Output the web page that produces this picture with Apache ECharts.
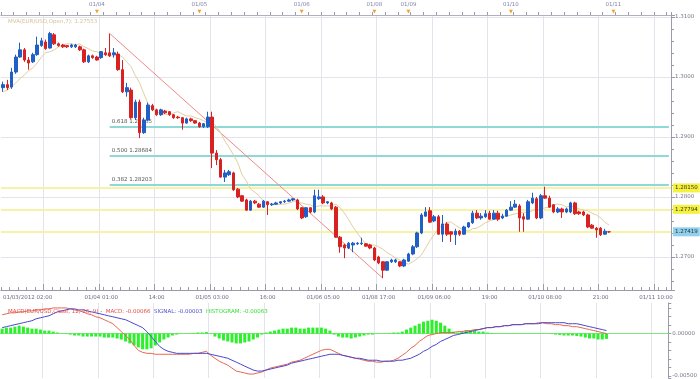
<!DOCTYPE html>
<html><head><meta charset="utf-8">
<script src="https://cdn.jsdelivr.net/npm/echarts@6/dist/echarts.min.js"></script>
<style>html,body{margin:0;padding:0;background:#fff}#c{width:700px;height:379px}</style>
</head><body><div id="c"></div>
<script>
// ---- time categories (hourly bars, weekend skipped) ----
const daySegments = [["01/03",2,23],["01/04",0,23],["01/05",0,23],["01/06",0,16],["01/08",16,23],["01/09",0,23],["01/10",0,23],["01/11",0,13]];
const categories = [];
daySegments.forEach(([d,a,b]) => { for (let h=a; h<=b; h++) categories.push(d+" "+String(h).padStart(2,"0")+":00"); });

const bottomLabels = [["01/03 02:00","01/03/2012 02:00"],["01/04 01:00","01/04 01:00"],["01/04 14:00","14:00"],["01/05 03:00","01/05 03:00"],["01/05 16:00","16:00"],["01/06 05:00","01/06 05:00"],["01/08 17:00","01/08 17:00"],["01/09 06:00","01/09 06:00"],["01/09 19:00","19:00"],["01/10 08:00","01/10 08:00"],["01/10 21:00","21:00"],["01/11 10:00","01/11 10:00"]];
const gridTimes = ["01/03 12:00","01/04 01:00","01/04 14:00","01/05 03:00","01/05 16:00","01/06 05:00","01/08 17:00","01/09 06:00","01/09 19:00","01/10 08:00","01/10 21:00","01/11 10:00"];
const dayStarts = [["01/04 00:00","01/04"],["01/05 00:00","01/05"],["01/06 00:00","01/06"],["01/08 16:00","01/08"],["01/09 00:00","01/09"],["01/10 00:00","01/10"],["01/11 00:00","01/11"]];

// ---- EUR/USD hourly candles: [open, close, low, high] ----
const candles = [
[1.2982,1.2987,1.2975,1.2992],[1.2987,1.2982,1.2978,1.2995],[1.2983,1.3008,1.2980,1.3015],[1.3008,1.3033,1.3005,1.3037],
[1.3033,1.3045,1.3032,1.3057],[1.3045,1.3028,1.3025,1.3048],[1.3028,1.3023,1.3012,1.3033],[1.3025,1.3037,1.3023,1.3040],
[1.3037,1.3053,1.3035,1.3067],[1.3052,1.3060,1.3050,1.3065],[1.3058,1.3047,1.3045,1.3062],[1.3048,1.3072,1.3047,1.3075],
[1.3070,1.3055,1.3053,1.3073],[1.3055,1.3052,1.3050,1.3057],[1.3053,1.3050,1.3048,1.3055],[1.3052,1.3050,1.3048,1.3053],
[1.3050,1.3053,1.3048,1.3055],[1.3050,1.3053,1.3048,1.3055],[1.3050,1.3045,1.3043,1.3052],[1.3045,1.3025,1.3023,1.3047],
[1.3025,1.3035,1.3023,1.3037],[1.3035,1.3032,1.3030,1.3037],[1.3033,1.3028,1.3027,1.3035],[1.3032,1.3042,1.3030,1.3043],
[1.3040,1.3037,1.3035,1.3048],[1.3040,1.3035,1.3033,1.3072],[1.3037,1.3040,1.3032,1.3048],[1.3038,1.3012,1.3010,1.3042],
[1.3012,1.2975,1.2973,1.3028],[1.2975,1.2982,1.2967,1.2990],[1.2978,1.2932,1.2930,1.2982],[1.2932,1.2958,1.2928,1.2962],
[1.2958,1.2907,1.2898,1.2962],[1.2907,1.2928,1.2905,1.2932],[1.2928,1.2953,1.2927,1.2957],[1.2952,1.2945,1.2943,1.2955],
[1.2945,1.2937,1.2935,1.2947],[1.2937,1.2945,1.2935,1.2947],[1.2943,1.2940,1.2938,1.2945],[1.2942,1.2937,1.2935,1.2943],
[1.2937,1.2932,1.2930,1.2938],[1.2933,1.2932,1.2930,1.2935],[1.2932,1.2923,1.2912,1.2933],[1.2923,1.2930,1.2922,1.2932],
[1.2930,1.2927,1.2925,1.2932],[1.2927,1.2923,1.2922,1.2928],[1.2923,1.2917,1.2915,1.2925],[1.2917,1.2922,1.2915,1.2923],
[1.2917,1.2933,1.2915,1.2942],[1.2933,1.2873,1.2848,1.2942],[1.2873,1.2862,1.2853,1.2878],[1.2862,1.2833,1.2832,1.2865],
[1.2833,1.2840,1.2825,1.2845],[1.2837,1.2842,1.2835,1.2845],[1.2840,1.2812,1.2810,1.2842],[1.2813,1.2800,1.2798,1.2815],
[1.2802,1.2793,1.2792,1.2803],[1.2795,1.2778,1.2777,1.2797],[1.2778,1.2793,1.2777,1.2795],[1.2793,1.2790,1.2788,1.2795],
[1.2788,1.2783,1.2782,1.2790],[1.2783,1.2793,1.2782,1.2795],[1.2792,1.2787,1.2770,1.2793],[1.2787,1.2788,1.2785,1.2790],
[1.2788,1.2790,1.2787,1.2792],[1.2790,1.2792,1.2788,1.2793],[1.2792,1.2793,1.2790,1.2795],[1.2793,1.2795,1.2792,1.2797],
[1.2795,1.2797,1.2793,1.2798],[1.2795,1.2780,1.2778,1.2797],[1.2782,1.2765,1.2763,1.2783],[1.2767,1.2782,1.2765,1.2783],
[1.2782,1.2775,1.2773,1.2783],[1.2775,1.2802,1.2773,1.2812],[1.2797,1.2800,1.2795,1.2812],[1.2800,1.2790,1.2788,1.2803],
[1.2790,1.2792,1.2788,1.2793],[1.2790,1.2780,1.2778,1.2792],[1.2783,1.2733,1.2732,1.2785],[1.2733,1.2717,1.2707,1.2735],
[1.2720,1.2715,1.2698,1.2722],[1.2715,1.2723,1.2713,1.2725],[1.2720,1.2723,1.2708,1.2725],[1.2722,1.2723,1.2720,1.2725],
[1.2722,1.2723,1.2720,1.2732],[1.2722,1.2718,1.2717,1.2723],[1.2720,1.2715,1.2713,1.2722],[1.2715,1.2695,1.2693,1.2717],
[1.2700,1.2690,1.2688,1.2702],[1.2692,1.2678,1.2665,1.2693],[1.2678,1.2692,1.2677,1.2693],[1.2692,1.2695,1.2690,1.2697],
[1.2692,1.2695,1.2690,1.2697],[1.2692,1.2685,1.2683,1.2693],[1.2685,1.2695,1.2683,1.2697],[1.2693,1.2705,1.2692,1.2707],
[1.2705,1.2717,1.2703,1.2720],[1.2717,1.2740,1.2715,1.2742],[1.2740,1.2770,1.2738,1.2773],[1.2768,1.2775,1.2767,1.2783],
[1.2777,1.2758,1.2757,1.2783],[1.2760,1.2767,1.2758,1.2770],[1.2767,1.2738,1.2737,1.2770],[1.2738,1.2755,1.2725,1.2770],
[1.2755,1.2738,1.2735,1.2758],[1.2742,1.2738,1.2725,1.2743],[1.2737,1.2743,1.2720,1.2747],[1.2743,1.2738,1.2735,1.2745],
[1.2738,1.2750,1.2737,1.2752],[1.2750,1.2757,1.2748,1.2758],[1.2757,1.2773,1.2755,1.2777],[1.2773,1.2765,1.2763,1.2778],
[1.2765,1.2768,1.2762,1.2773],[1.2767,1.2772,1.2765,1.2778],[1.2773,1.2763,1.2762,1.2777],[1.2763,1.2773,1.2762,1.2778],
[1.2773,1.2763,1.2760,1.2777],[1.2765,1.2768,1.2763,1.2772],[1.2768,1.2778,1.2767,1.2780],[1.2778,1.2783,1.2777,1.2793],
[1.2783,1.2788,1.2782,1.2795],[1.2785,1.2765,1.2742,1.2788],[1.2767,1.2763,1.2742,1.2773],[1.2763,1.2792,1.2762,1.2795],
[1.2790,1.2798,1.2788,1.2807],[1.2797,1.2765,1.2763,1.2800],[1.2765,1.2802,1.2763,1.2805],[1.2802,1.2798,1.2797,1.2817],
[1.2798,1.2783,1.2782,1.2802],[1.2787,1.2775,1.2773,1.2788],[1.2775,1.2780,1.2773,1.2783],[1.2780,1.2775,1.2765,1.2782],
[1.2775,1.2780,1.2773,1.2782],[1.2775,1.2790,1.2773,1.2792],[1.2790,1.2772,1.2770,1.2792],[1.2775,1.2772,1.2770,1.2777],
[1.2775,1.2770,1.2768,1.2777],[1.2770,1.2750,1.2748,1.2772],[1.2753,1.2748,1.2747,1.2755],[1.2748,1.2745,1.2732,1.2750],
[1.2748,1.2737,1.2735,1.2750],[1.2738,1.2743,1.2737,1.2747],[1.2742,1.27419,1.2740,1.2743]
];

// ---- MVA(Open,7) ----
const ma7 = [1.2975,1.2978,1.2983,1.2990,1.2997,1.3003,1.3010,1.3015,1.3023,1.3033,
1.3040,1.3042,1.3045,1.3050,1.3053,1.3055,1.3055,1.3053,1.3055,1.3050,
1.3047,1.3043,1.3042,1.3038,1.3037,1.3035,1.3035,1.3037,1.3033,1.3025,
1.3017,1.3002,1.2990,1.2972,1.2955,1.2947,1.2943,1.2937,1.2938,1.2937,
1.2940,1.2942,1.2938,1.2935,1.2935,1.2932,1.2930,1.2927,1.2923,1.2925,
1.2917,1.2907,1.2893,1.2882,1.2870,1.2857,1.2837,1.2827,1.2813,1.2808,
1.2802,1.2793,1.2790,1.2788,1.2787,1.2788,1.2788,1.2790,1.2792,1.2792,
1.2790,1.2788,1.2787,1.2783,1.2785,1.2785,1.2785,1.2785,1.2788,1.2782,
1.2773,1.2762,1.2750,1.2740,1.2730,1.2722,1.2720,1.2720,1.2717,1.2713,
1.2707,1.2703,1.2698,1.2695,1.2690,1.2688,1.2692,1.2697,1.2703,1.2715,
1.2727,1.2737,1.2748,1.2752,1.2758,1.2758,1.2753,1.2748,1.2745,1.2743,
1.2747,1.2748,1.2752,1.2757,1.2760,1.2763,1.2767,1.2768,1.2768,1.2770,
1.2772,1.2773,1.2775,1.2773,1.2777,1.2780,1.2778,1.2782,1.2783,1.2787,
1.2788,1.2787,1.2783,1.2785,1.2783,1.2780,1.2778,1.2777,1.2773,1.2770,
1.2765,1.2758,1.2753];

// ---- MACD(12,26,9) ----
const macdLine = [0.00221,0.00233,0.00244,0.00244,0.00256,0.00256,0.00267,0.00267,0.00279,0.00279,
0.00291,0.00291,0.00302,0.00302,0.00302,0.00302,0.00291,0.00279,0.00267,0.00256,
0.00233,0.00221,0.00198,0.00186,0.00163,0.00140,0.00116,0.00070,0.00023,-0.00023,
-0.00070,-0.00140,-0.00198,-0.00221,-0.00233,-0.00233,-0.00244,-0.00244,-0.00244,-0.00244,
-0.00244,-0.00244,-0.00244,-0.00244,-0.00244,-0.00233,-0.00233,-0.00221,-0.00209,-0.00256,
-0.00291,-0.00326,-0.00349,-0.00372,-0.00407,-0.00442,-0.00453,-0.00465,-0.00477,-0.00477,
-0.00465,-0.00453,-0.00430,-0.00407,-0.00395,-0.00384,-0.00372,-0.00360,-0.00337,-0.00326,
-0.00314,-0.00291,-0.00267,-0.00244,-0.00221,-0.00198,-0.00186,-0.00186,-0.00209,-0.00233,
-0.00256,-0.00267,-0.00279,-0.00291,-0.00302,-0.00314,-0.00326,-0.00326,-0.00337,-0.00337,
-0.00326,-0.00326,-0.00314,-0.00291,-0.00256,-0.00221,-0.00174,-0.00140,-0.00093,-0.00058,
-0.00023,-0.00012,0,0.00012,0.00012,0.00012,0.00012,0.00023,0.00023,0.00035,
0.00035,0.00047,0.00047,0.00058,0.00070,0.00070,0.00081,0.00081,0.00093,0.00093,
0.00105,0.00105,0.00105,0.00116,0.00116,0.00116,0.00128,0.00128,0.00116,0.00116,
0.00105,0.00105,0.00093,0.00093,0.00081,0.00081,0.00070,0.00058,0.00047,0.00035,
0.00023,0.00012,0];
const signalLine = [0.00070,0.00081,0.00093,0.00105,0.00116,0.00128,0.00140,0.00151,0.00174,0.00186,
0.00198,0.00209,0.00233,0.00256,0.00267,0.00279,0.00291,0.00291,0.00279,0.00279,
0.00267,0.00256,0.00244,0.00233,0.00221,0.00209,0.00198,0.00186,0.00174,0.00163,
0.00140,0.00116,0.00093,0.00070,0.00023,-0.00035,-0.00093,-0.00151,-0.00186,-0.00209,
-0.00221,-0.00233,-0.00233,-0.00233,-0.00233,-0.00233,-0.00233,-0.00233,-0.00233,-0.00244,
-0.00256,-0.00267,-0.00279,-0.00291,-0.00314,-0.00337,-0.00360,-0.00384,-0.00407,-0.00430,
-0.00442,-0.00442,-0.00430,-0.00419,-0.00407,-0.00395,-0.00384,-0.00372,-0.00349,-0.00337,
-0.00326,-0.00314,-0.00302,-0.00291,-0.00279,-0.00267,-0.00256,-0.00244,-0.00244,-0.00244,
-0.00256,-0.00267,-0.00279,-0.00291,-0.00291,-0.00302,-0.00314,-0.00314,-0.00314,-0.00326,
-0.00326,-0.00326,-0.00326,-0.00314,-0.00314,-0.00302,-0.00291,-0.00267,-0.00244,-0.00209,
-0.00186,-0.00151,-0.00128,-0.00093,-0.00070,-0.00047,-0.00023,-0.00012,0,0.00012,
0.00023,0.00035,0.00047,0.00058,0.00070,0.00070,0.00081,0.00081,0.00093,0.00093,
0.00105,0.00105,0.00105,0.00116,0.00116,0.00116,0.00116,0.00128,0.00128,0.00128,
0.00128,0.00128,0.00128,0.00116,0.00116,0.00116,0.00105,0.00093,0.00081,0.00070,
0.00058,0.00047,0.00035];
const histogram = [0.00058,0.00070,0.00070,0.00081,0.00093,0.00081,0.00070,0.00058,0.00058,0.00047,
0.00035,0.00035,0.00023,0.00012,0.00002,-0.00006,-0.00012,-0.00023,-0.00023,-0.00035,
-0.00035,-0.00035,-0.00035,-0.00035,-0.00047,-0.00047,-0.00047,-0.00058,-0.00070,-0.00093,
-0.00116,-0.00140,-0.00163,-0.00186,-0.00186,-0.00174,-0.00140,-0.00105,-0.00070,-0.00047,
-0.00023,-0.00012,-0.00003,0.00002,0.00003,0.00006,0.00012,0.00012,0.00017,0.00002,
-0.00035,-0.00058,-0.00081,-0.00093,-0.00105,-0.00116,-0.00116,-0.00105,-0.00093,-0.00070,
-0.00047,-0.00012,0.00012,0.00023,0.00035,0.00047,0.00058,0.00058,0.00070,0.00070,
0.00058,0.00058,0.00070,0.00070,0.00070,0.00070,0.00058,0.00035,-0.00012,-0.00035,
-0.00047,-0.00047,-0.00058,-0.00047,-0.00035,-0.00023,-0.00012,-0.00012,-0.00003,0.00002,
0.00003,0.00005,0.00012,0.00012,0.00023,0.00047,0.00070,0.00093,0.00116,0.00140,
0.00151,0.00163,0.00151,0.00128,0.00093,0.00058,0.00023,0.00012,0.00023,0.00035,
0.00035,0.00035,0.00023,0.00023,0.00012,0.00006,0.00003,0.00002,0.00003,0.00004,
0.00003,0.00002,0.00003,0.00004,0.00003,0.00002,0.00003,0.00002,0.00001,-0.00006,
-0.00012,-0.00017,-0.00023,-0.00023,-0.00023,-0.00029,-0.00035,-0.00047,-0.00058,-0.00058,
-0.00070,-0.00070,-0.00063];

// ---- drawing objects ----
const priceLines = [[1.28150,"#f6f23c"],[1.27794,"#f6f23c"],[1.27419,"#8fd0ee"]];
const fibLevels = [[0.618,1.29165],[0.500,1.28684],[0.382,1.28203]];
const trend = [["01/04 03:00",1.30722],["01/08 18:00",1.26646]];
const legendTexts = {mva:"MVA(EUR/USD,Open,7): 1.27553", macd:"MACD(EUR/USD,Close, 12, 26, 9) -  MACD: -0.00066", signal:"SIGNAL: -0.00003", hist:"HISTOGRAM: -0.00063"};

const F = "DejaVu Sans", FS = 5.5;
const bl = Object.fromEntries(bottomLabels);
const ds = Object.fromEntries(dayStarts);
const gridFn = (i, v) => gridTimes.includes(v);
const lastCat = categories[categories.length-1];

const chart = echarts.init(document.getElementById('c'));
chart.setOption({
  animation: false,
  backgroundColor: '#ffffff',
  textStyle: {fontFamily: F},
  title: [
    {text: legendTexts.mva, left: 3, top: 14, textStyle: {fontSize: FS, color: '#d4c39a', fontWeight: 'normal', fontFamily: F}},
    {text: '{r|' + legendTexts.macd + '}  {b|' + legendTexts.signal + '}  {g|' + legendTexts.hist + '}', left: 3, top: 304,
     textStyle: {fontSize: FS, fontWeight: 'normal', fontFamily: F, rich: {
       r: {color: '#e0504a', fontSize: FS, fontFamily: F}, b: {color: '#5050cc', fontSize: FS, fontFamily: F}, g: {color: '#33dd33', fontSize: FS, fontFamily: F}}}}
  ],
  grid: [
    {left: 0, right: 29, top: 15, height: 275},
    {left: 0, right: 29, top: 303, bottom: 0}
  ],
  xAxis: [
    {type: 'category', data: categories, gridIndex: 0, position: 'bottom',
     axisLine: {lineStyle: {color: '#9a9aa8'}},
     axisTick: {show: true, inside: true, interval: 1, length: 3, lineStyle: {color: '#9a9aa8'}},
     axisLabel: {interval: (i, v) => v in bl, formatter: v => bl[v] || '', fontSize: FS, fontFamily: F, color: '#6a6a88', margin: 5, alignMinLabel: 'left'},
     splitLine: {show: true, interval: gridFn, lineStyle: {color: '#e3e3ec', width: 1}}},
    {type: 'category', data: categories, gridIndex: 0, position: 'top',
     axisLine: {lineStyle: {color: '#b0b0bc'}},
     axisTick: {show: true, interval: 2, length: 3, lineStyle: {color: '#9a9aa8'}},
     axisLabel: {interval: (i, v) => v in ds, formatter: v => '{d|' + (ds[v] || '') + '}\n{m|▼}', margin: 0,
       rich: {d: {fontSize: FS, fontFamily: F, color: '#8484b0', lineHeight: 8}, m: {fontSize: 5, color: '#f0a030', lineHeight: 6}}},
     splitLine: {show: false}},
    {type: 'category', data: categories, gridIndex: 0, position: 'bottom',
     axisLine: {show: false},
     axisTick: {show: true, inside: true, interval: gridFn, length: 6, lineStyle: {color: '#9a9aa8'}},
     axisLabel: {show: false}, splitLine: {show: false}},
    {type: 'category', data: categories, gridIndex: 1, position: 'top',
     axisLine: {lineStyle: {color: '#dcdce4'}}, axisTick: {show: false}, axisLabel: {show: false},
     splitLine: {show: true, interval: gridFn, lineStyle: {color: '#e3e3ec'}}}
  ],
  yAxis: [
    {type: 'value', gridIndex: 0, position: 'right', min: 1.2645, max: 1.3103, splitNumber: 5,
     axisLine: {show: true, lineStyle: {color: '#9a9aa8'}},
     axisTick: {show: true, length: 4, lineStyle: {color: '#9a9aa8'}},
     minorTick: {show: true, splitNumber: 5, length: 3, lineStyle: {color: '#9a9aa8'}},
     axisLabel: {formatter: v => v.toFixed(4), fontSize: FS, fontFamily: F, color: '#777788', margin: 4, showMinLabel: false, showMaxLabel: false},
     splitLine: {show: true, lineStyle: {color: '#e3e3ec'}}},
    {type: 'value', gridIndex: 1, position: 'right', min: -0.00523, max: 0.0036, splitNumber: 9,
     axisLine: {show: true, lineStyle: {color: '#9a9aa8'}},
     axisTick: {show: true, length: 3, lineStyle: {color: '#9a9aa8'}},
     axisLabel: {formatter: v => (Math.abs(v) < 1e-9 || Math.abs(v + 0.005) < 1e-9) ? v.toFixed(5) : '', fontSize: FS, fontFamily: F, color: '#777788', margin: 4},
     splitLine: {show: false}}
  ],
  series: [
    {type: 'candlestick', name: 'EUR/USD', xAxisIndex: 0, yAxisIndex: 0, data: candles, barWidth: 3, z: 3,
     itemStyle: {color: '#1f5fc6', color0: '#d82222', borderColor: '#1f5fc6', borderColor0: '#d82222', borderWidth: 1}},
    {type: 'line', name: 'MVA', xAxisIndex: 0, yAxisIndex: 0, data: ma7, showSymbol: false, symbol: 'none',
     lineStyle: {color: '#e2cfa0', width: 1}, z: 2,
     markLine: {symbol: ['none', 'none'], silent: true, animation: false, precision: 5, z: 1,
       data: [
         ...priceLines.map(([v, bg]) => ({yAxis: v, lineStyle: {color: '#f7f3a6', width: 2, type: 'solid'},
            label: {show: true, position: 'end', formatter: v.toFixed(5), backgroundColor: bg, color: '#333333', fontSize: FS, fontFamily: F, padding: [2, 2, 1, 2], distance: 2}})),
         ...fibLevels.map(([r, v]) => [
            {coord: [trend[0][0], v], lineStyle: {color: '#8ed8d8', width: 2, type: 'solid'},
             label: {show: true, position: 'insideStartTop', formatter: r.toFixed(3) + ' ' + v.toFixed(5), color: '#555555', fontSize: FS, fontFamily: F, distance: 2}},
            {coord: [lastCat, v]}]),
         [{coord: trend[0], lineStyle: {color: '#ee8a8a', width: 1, type: 'solid'}, label: {show: false}}, {coord: trend[1]}]
       ]}},
    {type: 'bar', name: 'HISTOGRAM', xAxisIndex: 3, yAxisIndex: 1, data: histogram, barWidth: 3,
     itemStyle: {color: '#2cf02c'},
     markLine: {symbol: ['none', 'none'], silent: true, precision: 5, z: 1, label: {show: false}, data: [{yAxis: 0}], lineStyle: {color: '#7ee87e', width: 1, type: 'solid'}}},
    {type: 'line', name: 'MACD', xAxisIndex: 3, yAxisIndex: 1, data: macdLine, showSymbol: false, symbol: 'none',
     lineStyle: {color: '#e8664f', width: 1}},
    {type: 'line', name: 'SIGNAL', xAxisIndex: 3, yAxisIndex: 1, data: signalLine, showSymbol: false, symbol: 'none',
     lineStyle: {color: '#4848d0', width: 1}}
  ]
});
</script></body></html>
